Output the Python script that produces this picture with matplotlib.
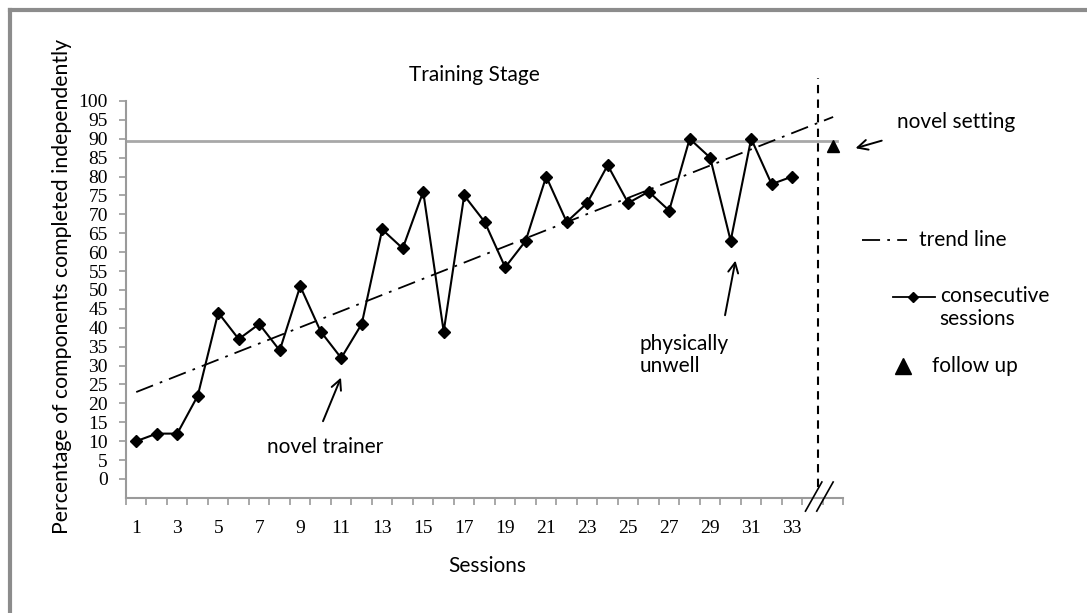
import matplotlib

matplotlib.use("Agg")
import matplotlib.pyplot as plt
import numpy as np
from matplotlib.lines import Line2D

# data
sessions = np.arange(1, 34)
pct_independent = [10, 12, 12, 22, 44, 37, 41, 34, 51, 39, 32, 41, 66, 61, 76, 39,
                   75, 68, 56, 63, 80, 68, 73, 83, 73, 76, 71, 90, 85, 63, 90, 78, 80]
criterion_level = 89.5
followup_session = [35]
followup_value = [88]
phase_change_x = 34.25
trend_end_x = 35
xtick_labels = [str(s) for s in range(1, 34, 2)]
ytick_values = list(range(0, 101, 5))

SANS = "Lato"
SERIF = "Liberation Serif"
GREY = "#9a9a9a"
TREND_STYLE = (0, (10, 4, 1.5, 4))

fig = plt.figure(figsize=(10.87, 6.13), dpi=100)
ax = fig.add_axes([0.1159, 0.1878, 0.660, 0.6845])

# criterion line
ax.plot([0.5, 35.2], [criterion_level, criterion_level], color="#a8a8a8", linewidth=2, zorder=1)

# trend line (least-squares fit of the sessions)
slope, intercept = np.polyfit(sessions, pct_independent, 1)
tx = np.array([1, trend_end_x])
ax.plot(tx, slope * tx + intercept, color="black", linewidth=1.3,
        linestyle=TREND_STYLE, zorder=2, clip_on=False)

# consecutive sessions
ax.plot(sessions, pct_independent, color="black", linewidth=1.5, marker="D",
        markersize=6, zorder=3)

# follow-up
ax.plot(followup_session, followup_value, linestyle="none", marker="^",
        color="black", markersize=9, zorder=3, clip_on=False)

# phase change line
ax.plot([phase_change_x, phase_change_x], [-2, 106], color="black", linewidth=1.5,
        linestyle=(0, (4, 3)), zorder=2, clip_on=False)

# axis break marks
for bx in (34.05, 34.6):
    ax.plot([bx - 0.4, bx + 0.4], [-8.5, -0.8], color="black", linewidth=1.2,
            zorder=4, clip_on=False)

ax.set_xlim(0.5, 35.5)
ax.set_ylim(-5, 106)
for side in ("top", "right"):
    ax.spines[side].set_visible(False)
ax.spines["left"].set_bounds(-5, 100)
for side in ("left", "bottom"):
    ax.spines[side].set_color(GREY)
    ax.spines[side].set_linewidth(1.5)

ax.set_yticks(ytick_values)
ax.set_yticklabels([str(v) for v in ytick_values], fontfamily=SERIF, fontsize=14)
ax.tick_params(axis="y", direction="out", length=5, width=1.2, color=GREY, pad=8)

ax.set_xticks(range(1, 34, 2))
ax.set_xticklabels(xtick_labels, fontfamily=SERIF, fontsize=14)
ax.set_xticks(np.arange(0.5, 36, 1), minor=True)
ax.tick_params(axis="x", which="major", length=0, pad=16)
ax.tick_params(axis="x", which="minor", direction="out", length=5, width=1.2, color=GREY)

ax.text(17.5, 106.9, "Training Stage", ha="center", va="center", fontsize=15,
        fontfamily=SANS, clip_on=False)
fig.text(0.448, 0.077, "Sessions", ha="center", va="center", fontsize=15,
         fontfamily=SANS)
fig.text(0.057, 0.533, "Percentage of components completed independently",
         rotation=90, ha="center", va="center", fontsize=15.3, fontfamily=SANS)

# annotations
arrow = dict(arrowstyle="->", color="black", linewidth=1.4, mutation_scale=18)
ax.annotate("", xy=(11.04, 27.5), xytext=(10.06, 14.6), arrowprops=arrow)
ax.text(10.2, 8.5, "novel trainer", ha="center", va="center", fontsize=15,
        fontfamily=SANS)
ax.annotate("", xy=(30.26, 58.5), xytext=(29.7, 42.6), arrowprops=arrow)
ax.text(25.57, 32.8, "physically\nunwell", ha="left", va="center", fontsize=15,
        fontfamily=SANS, linespacing=1.15)
ax.annotate("", xy=(35.96, 87.3), xytext=(37.5, 89.7), arrowprops=arrow,
            annotation_clip=False)
ax.text(38.1, 94.4, "novel setting", ha="left", va="center", fontsize=15,
        fontfamily=SANS, clip_on=False)

# hand-placed legend
ax.plot([36.4, 38.6], [63.2, 63.2], color="black", linewidth=1.3,
        linestyle=TREND_STYLE, clip_on=False)
ax.text(39.2, 63.2, "trend line", ha="left", va="center", fontsize=15,
        fontfamily=SANS, clip_on=False)
ax.plot([37.9, 39.96], [48.1, 48.1], color="black", linewidth=1.3, clip_on=False)
ax.plot([38.9], [48.1], marker="D", color="black", markersize=5, clip_on=False)
ax.text(40.2, 51.0, "consecutive\nsessions", ha="left", va="top", fontsize=15,
        fontfamily=SANS, clip_on=False, linespacing=1.15)
ax.plot([38.4], [29.9], marker="^", color="black", markersize=11, clip_on=False)
ax.text(39.8, 29.9, "follow up", ha="left", va="center", fontsize=15,
        fontfamily=SANS, clip_on=False)

# outer frame (top and left edges)
fig.add_artist(Line2D([0.0092, 1.0], [0.984, 0.984], color="#8c8c8c", linewidth=3))
fig.add_artist(Line2D([0.0092, 0.0092], [0.0, 0.984], color="#8c8c8c", linewidth=3))

fig.savefig("out.png", dpi=100)
plt.close(fig)
